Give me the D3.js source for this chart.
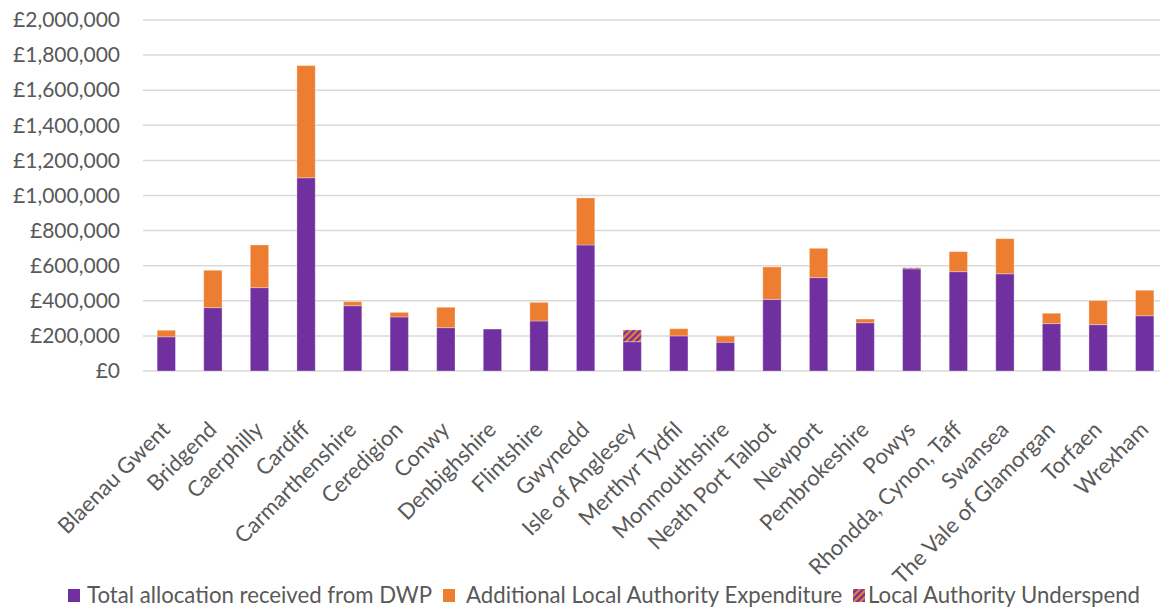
<!DOCTYPE html>
<html><head><meta charset="utf-8">
<script src="https://cdn.jsdelivr.net/npm/d3@7"></script>
<style>
html,body{margin:0;padding:0;background:#fff;}
svg text{font-family:Lato,"Open Sans",sans-serif;fill:#595959;}
</style></head>
<body>
<svg id="chart" width="1162" height="610"></svg>
<script>
const categories = ["Blaenau Gwent","Bridgend","Caerphilly","Cardiff","Carmarthenshire","Ceredigion","Conwy","Denbighshire","Flintshire","Gwynedd","Isle of Anglesey","Merthyr Tydfil","Monmouthshire","Neath Port Talbot","Newport","Pembrokeshire","Powys","Rhondda, Cynon, Taff","Swansea","The Vale of Glamorgan","Torfaen","Wrexham"];
const dwpAllocation = [195000,361000,475000,1101000,372000,308000,247000,239000,285000,718000,167000,200000,164000,408000,532000,275000,582000,566000,554000,270000,264000,315000];
const additionalExpenditure = [37000,213000,243000,639000,23000,26000,116000,0,106000,268000,0,41000,35000,185000,167000,21000,0,114000,200000,59000,137000,145000];
const underspend = [0,0,0,0,0,0,0,0,0,0,67000,0,0,0,0,0,6000,0,0,0,0,0];
const seriesNames = ["Total allocation received from DWP","Additional Local Authority Expenditure","Local Authority Underspend"];
const yTicks = [0,200000,400000,600000,800000,1000000,1200000,1400000,1600000,1800000,2000000];

const svg = d3.select("#chart");
const purple = "#7030A0", orange = "#ED7D31";

const defs = svg.append("defs");
const pat = defs.append("pattern").attr("id","hatch").attr("patternUnits","userSpaceOnUse")
  .attr("width",4.6).attr("height",4.6).attr("patternTransform","rotate(45)");
pat.append("rect").attr("width",4.6).attr("height",4.6).attr("fill",orange);
pat.append("rect").attr("width",2.3).attr("height",4.6).attr("fill",purple);

const x = d3.scaleBand().domain(categories).range([143,1168]).paddingInner(0.607).paddingOuter(0.3035);
const y = d3.scaleLinear().domain([0,2000000]).range([371,20]);

// gridlines
svg.append("g").selectAll("line").data(yTicks).join("line")
  .attr("x1",143).attr("x2",1160)
  .attr("y1",d=>y(d)).attr("y2",d=>y(d))
  .attr("stroke","#d9d9d9").attr("stroke-width",1.5);

// y axis
const fmt = d => "£" + d3.format(",")(d);
const yAxis = d3.axisLeft(y).tickValues(yTicks).tickFormat(fmt).tickSize(0).tickPadding(0);
const gy = svg.append("g").attr("transform","translate(120,0)").call(yAxis);
gy.select(".domain").remove();
gy.selectAll("text").attr("font-size",21).style("font-family","Lato, sans-serif").attr("fill","#595959");

// stacked data
const rows = categories.map((c,i)=>({cat:c, a:dwpAllocation[i], b:additionalExpenditure[i], u:underspend[i]}));
const stack = d3.stack().keys(["a","b","u"])(rows);
const fills = [purple, orange, "url(#hatch)"];
svg.append("g").selectAll("g").data(stack).join("g")
  .attr("fill",(d,i)=>fills[i])
  .selectAll("rect").data(d=>d.filter(s=>s[1]-s[0]>0)).join("rect")
  .attr("x",d=>x(d.data.cat))
  .attr("width",x.bandwidth())
  .attr("y",d=>y(d[1]))
  .attr("height",d=>y(d[0])-y(d[1]))
  .attr("stroke","rgba(255,255,255,0.3)").attr("stroke-width",1);

// x axis labels
const xAxis = d3.axisBottom(x).tickSize(0).tickPadding(0);
const gx = svg.append("g").attr("transform","translate(0,371)").call(xAxis);
gx.select(".domain").remove();
gx.selectAll("text")
  .attr("font-size",22).style("font-family","Lato, sans-serif").attr("fill","#595959")
  .attr("text-anchor","end")
  .attr("y",0).attr("dy",0)
  .attr("transform","translate(5,60) rotate(-45)");

// legend
const legendItems = [
  {name:seriesNames[0], fill:purple, sx:68, tx:87},
  {name:seriesNames[1], fill:orange, sx:443, tx:466},
  {name:seriesNames[2], fill:"url(#hatch)", sx:853, tx:868}
];
const lg = svg.append("g");
legendItems.forEach(it=>{
  lg.append("rect").attr("x",it.sx).attr("y",589).attr("width",12).attr("height",13).attr("fill",it.fill);
  lg.append("text").attr("x",it.tx).attr("y",603).attr("font-size",22.2).text(it.name);
});
</script>
</body></html>
